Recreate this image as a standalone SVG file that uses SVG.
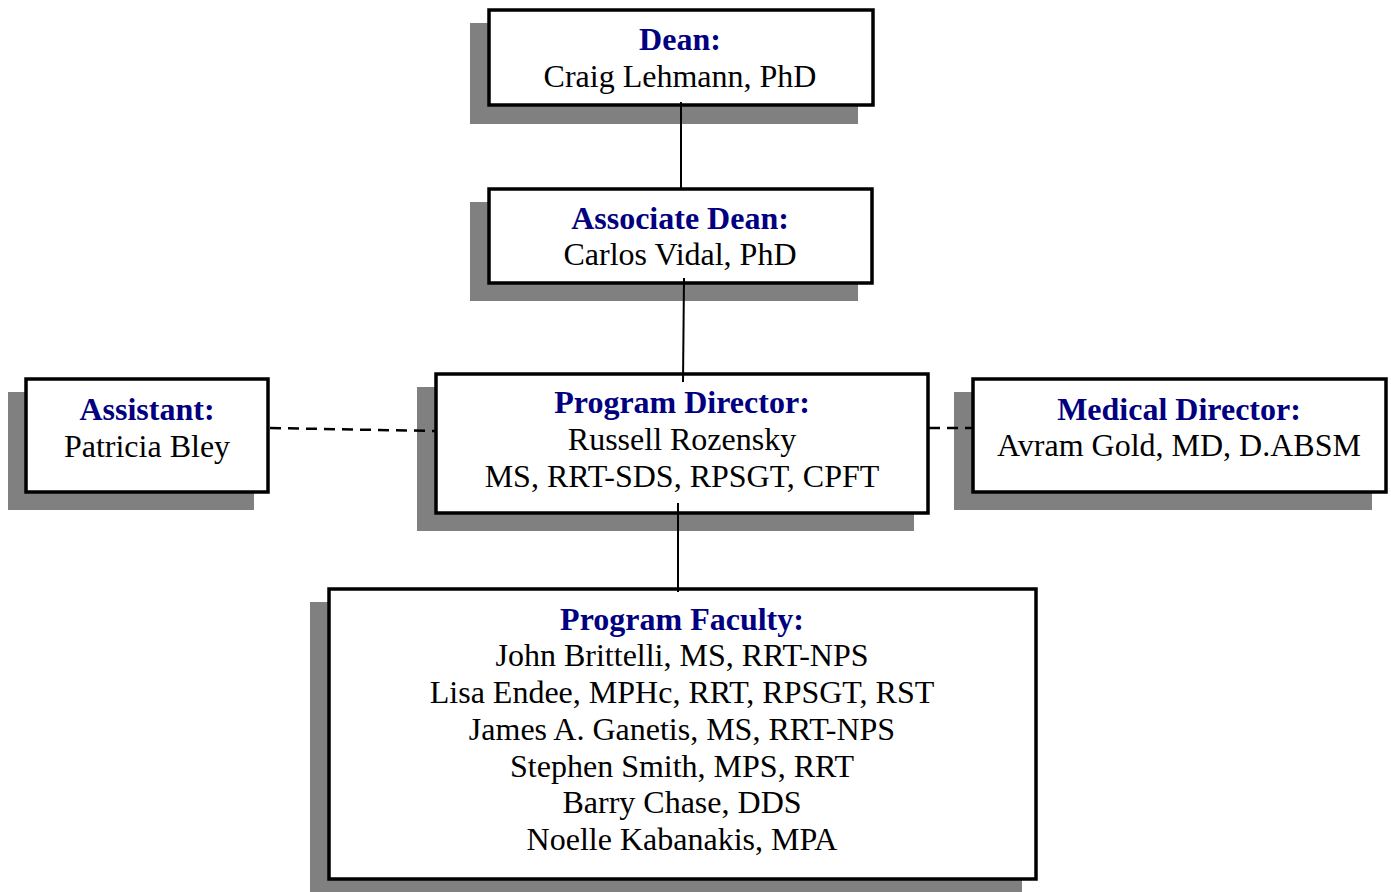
<svg xmlns="http://www.w3.org/2000/svg" width="1391" height="892" viewBox="0 0 1391 892">
<style>
.sh{fill:#808080;stroke:none}
.bx{fill:#fff;stroke:#000;stroke-width:3.5}
text{font-family:"Liberation Serif","Times New Roman",serif;font-size:32px;text-anchor:middle;fill:#000}
.t{font-weight:bold;fill:#000080}
.c{stroke:#000;stroke-width:2;fill:none}
.d{stroke:#000;stroke-width:2.5;fill:none;stroke-dasharray:11 7}
</style>
<rect x="0" y="0" width="1391" height="892" fill="#fff"/>
<g id="dean">
<rect class="sh" x="470" y="23" width="388" height="101"/>
<rect class="bx" x="489" y="10" width="384" height="95"/>
<text class="t" x="680" y="50">Dean:</text>
<text x="680" y="87">Craig Lehmann, PhD</text>
</g>
<g id="associate-dean">
<rect class="sh" x="470" y="202" width="388" height="99"/>
<rect class="bx" x="489" y="189" width="383" height="94"/>
<text class="t" x="680" y="229">Associate Dean:</text>
<text x="680" y="265">Carlos Vidal, PhD</text>
</g>
<g id="program-director">
<rect class="sh" x="417" y="387" width="497" height="144"/>
<rect class="bx" x="436" y="374" width="492" height="139"/>
<text class="t" x="682" y="413">Program Director:</text>
<text x="682" y="450">Russell Rozensky</text>
<text x="682" y="487">MS, RRT-SDS, RPSGT, CPFT</text>
</g>
<g id="assistant">
<rect class="sh" x="8" y="392" width="246" height="118"/>
<rect class="bx" x="26" y="379" width="242" height="113"/>
<text class="t" x="147" y="420">Assistant:</text>
<text x="147" y="457">Patricia Bley</text>
</g>
<g id="medical-director">
<rect class="sh" x="954" y="392" width="418" height="118"/>
<rect class="bx" x="973" y="379" width="413" height="113"/>
<text class="t" x="1179" y="420">Medical Director:</text>
<text x="1179" y="456">Avram Gold, MD, D.ABSM</text>
</g>
<g id="program-faculty">
<rect class="sh" x="310" y="602" width="712" height="295"/>
<rect class="bx" x="329" y="589" width="707" height="290"/>
<text class="t" x="682" y="630">Program Faculty:</text>
<text x="682" y="666">John Brittelli, MS, RRT-NPS</text>
<text x="682" y="703">Lisa Endee, MPHc, RRT, RPSGT, RST</text>
<text x="682" y="740">James A. Ganetis, MS, RRT-NPS</text>
<text x="682" y="777">Stephen Smith, MPS, RRT</text>
<text x="682" y="813">Barry Chase, DDS</text>
<text x="682" y="850">Noelle Kabanakis, MPA</text>
</g>
<g id="connectors">
<line class="c" x1="681" y1="102" x2="681" y2="189"/>
<line class="c" x1="684" y1="278" x2="683" y2="382"/>
<line class="c" x1="678" y1="503" x2="678" y2="592"/>
<line class="d" x1="270" y1="428" x2="436" y2="431"/>
<line class="d" x1="929" y1="428" x2="972" y2="428"/>
</g>
</svg>
